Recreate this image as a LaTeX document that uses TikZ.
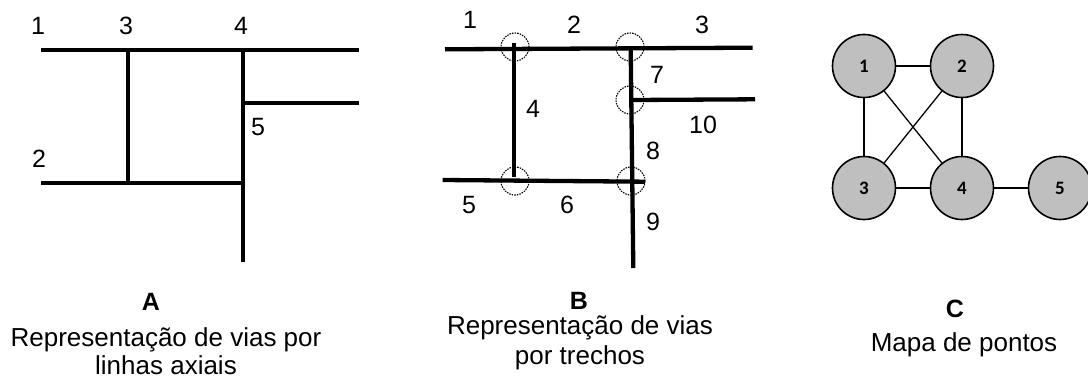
\documentclass[tikz,border=0pt]{standalone}
\usepackage{fontspec}
\setmainfont{Liberation Sans}
\newfontfamily\calibfont{Carlito}
\begin{document}
\begin{tikzpicture}[x=1pt,y=-1pt,
  road/.style={line width=4.3pt},
  num/.style={font=\fontsize{25}{30}\selectfont, anchor=base, inner sep=0pt},
  captxt/.style={font=\fontsize{26}{30}\selectfont, anchor=base, inner sep=0pt},
  ttl/.style={font=\fontsize{25}{30}\selectfont\bfseries, anchor=base, inner sep=0pt},
  junc/.style={draw, dash pattern=on 1.5pt off 1.1pt, line width=1.1pt, circle, minimum size=28pt, inner sep=0pt},
  pt/.style={draw, circle, fill=black!25, line width=1.6pt, minimum size=63pt, inner sep=0pt, font=\calibfont\bfseries\fontsize{19}{21}\selectfont},
  link/.style={line width=1.3pt}]
\useasboundingbox (0,0) rectangle (1088,383);
% ---------- A ----------
\coordinate (a1) at (41,50);  \coordinate (a1e) at (359,50);
\coordinate (a3t) at (128,50); \coordinate (a3b) at (128,183);
\coordinate (a4t) at (243,50); \coordinate (a4b) at (243,262);
\coordinate (a5s) at (243,103); \coordinate (a5e) at (359,103);
\coordinate (a2s) at (41,183); \coordinate (a2e) at (243,183);
\draw[road] (a1) -- (a1e);
\draw[road] (a3t) -- (a3b);
\draw[road] (a4t) -- (a4b);
\draw[road] (a5s) -- (a5e);
\draw[road] (a2s) -- (a2e);
\node[num] (la1) at (38,34) {1};
\node[num] (la3) at (126,34) {3};
\node[num] (la4) at (241,34) {4};
\node[num] (la5) at (258,135) {5};
\node[num] (la2) at (39,167) {2};
% ---------- B ----------
\coordinate (b1s) at (445,49.3);  \coordinate (b1e) at (752.7,47.7);
\coordinate (b4t) at (514,43);    \coordinate (b4b) at (514,177);
\coordinate (b7t) at (630.7,49);  \coordinate (b9b) at (633.3,268);
\coordinate (b10s) at (633,100);  \coordinate (b10e) at (755,99.3);
\coordinate (b5s) at (442.7,180); \coordinate (b6e) at (645,181.7);
\draw[road] (b1s) -- (b1e);
\draw[road] (b4t) -- (b4b);
\draw[road] (b7t) -- (b9b);
\draw[road] (b10s) -- (b10e);
\draw[road] (b5s) -- (b6e);
\node[junc] (j1) at (515,47) {};
\node[junc] (j2) at (630,47) {};
\node[junc] (j3) at (630,100) {};
\node[junc] (j4) at (515,181) {};
\node[junc] (j5) at (631,181) {};
\node[num] (lb1) at (470,28) {1};
\node[num] (lb2) at (574,33) {2};
\node[num] (lb3) at (702,33) {3};
\node[num] (lb7) at (657,83) {7};
\node[num] (lb4) at (533,117) {4};
\node[num] (lb10) at (703,133) {10};
\node[num] (lb8) at (653,159) {8};
\node[num] (lb5) at (469,213) {5};
\node[num] (lb6) at (567,213) {6};
\node[num] (lb9) at (653,230) {9};
% ---------- C ----------
\node[pt] (c1) at (864,66) {1};
\node[pt] (c2) at (962,66) {2};
\node[pt] (c3) at (864,188) {3};
\node[pt] (c4) at (962,188) {4};
\node[pt] (c5) at (1060,188) {5};
\draw[link] (c1) -- (c2);
\draw[link] (c1) -- (c3);
\draw[link] (c2) -- (c4);
\draw[link] (c3) -- (c4);
\draw[link] (c1) -- (c4);
\draw[link] (c2) -- (c3);
\draw[link] (c4) -- (c5);
% ---------- captions ----------
\node[ttl] (ta) at (151,310) {A};
\node[captxt] (ta1) at (166,346) {Representação de vias por};
\node[captxt] (ta2) at (166,374) {linhas axiais};
\node[ttl] (tb) at (579,309) {B};
\node[captxt] (tb1) at (580,334) {Representação de vias};
\node[captxt] (tb2) at (580,364) {por trechos};
\node[ttl] (tc) at (955,317) {C};
\node[captxt] (tc1) at (964,351) {Mapa de pontos};
\end{tikzpicture}
\end{document}
